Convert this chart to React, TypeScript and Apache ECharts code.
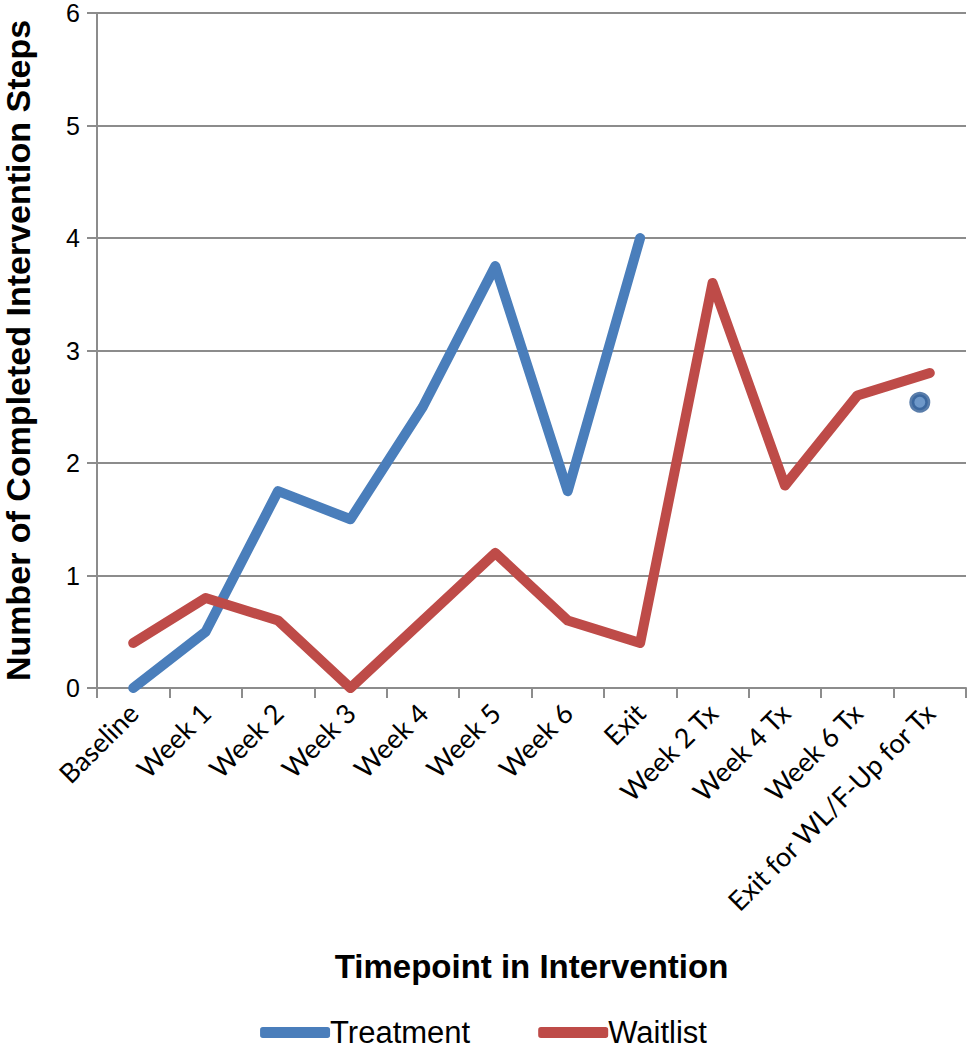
import React, { useEffect, useRef } from "react";
import * as echarts from "echarts";

const categories = [
  "Baseline",
  "Week 1",
  "Week 2",
  "Week 3",
  "Week 4",
  "Week 5",
  "Week 6",
  "Exit",
  "Week 2 Tx",
  "Week 4 Tx",
  "Week 6 Tx",
  "Exit for WL/F-Up for Tx",
];
const treatment = [0, 0.5, 1.75, 1.5, 2.5, 3.75, 1.75, 4, null, null, null, null];
const treatmentFollowUp = [null, null, null, null, null, null, null, null, null, null, null, 2.54];
const waitlist = [0.4, 0.8, 0.6, 0, 0.6, 1.2, 0.6, 0.4, 3.6, 1.8, 2.6, 2.8];
const yTicks = [0, 1, 2, 3, 4, 5, 6];

const BLUE = "#4a7ebb";
const RED = "#be4b48";

export default function App() {
  const ref = useRef<HTMLDivElement>(null);
  useEffect(() => {
    document.body.style.margin = "0";
    const chart = echarts.init(ref.current!, null, { renderer: "svg" });
    chart.setOption({
      animation: false,
      backgroundColor: "#ffffff",
      grid: { left: 97, right: 1, top: 13, bottom: 362, outerBoundsMode: "none", containLabel: false },
      legend: {
        data: ["Treatment", "Waitlist"],
        bottom: 0,
        left: "center",
        icon: "roundRect",
        itemWidth: 70,
        itemHeight: 11,
        itemGap: 68,
        padding: [0, 5, 2, 5],
        textStyle: { fontFamily: "Liberation Sans", fontSize: 31, lineHeight: 30, color: "#000", padding: [0, 0, 0, -5] },
      },
      xAxis: {
        type: "category",
        data: categories,
        boundaryGap: true,
        name: "Timepoint in Intervention",
        nameLocation: "middle",
        nameGap: 262,
        nameTextStyle: { fontFamily: "Liberation Sans", fontWeight: "bold", fontSize: 33, color: "#000" },
        axisLine: { lineStyle: { color: "#8c8c8c", width: 2 } },
        axisTick: { show: true, length: 10, lineStyle: { color: "#8c8c8c", width: 2 } },
        axisLabel: {
          rotate: 45,
          interval: 0,
          margin: 20,
          fontFamily: "Lato",
          fontSize: 27,
          color: "#000",
        },
      },
      yAxis: {
        type: "value",
        min: 0,
        max: 6,
        interval: 1,
        name: "Number of Completed Intervention Steps",
        nameLocation: "middle",
        nameGap: 62,
        nameTextStyle: { fontFamily: "Liberation Sans", fontWeight: "bold", fontSize: 34, color: "#000" },
        axisLine: { show: true, lineStyle: { color: "#8c8c8c", width: 2 } },
        axisTick: { show: true, length: 10, lineStyle: { color: "#8c8c8c", width: 2 } },
        splitLine: { lineStyle: { color: "#8c8c8c", width: 2 } },
        axisLabel: {
          fontFamily: "Liberation Sans",
          fontSize: 25,
          lineHeight: 22,
          color: "#000",
          margin: 17,
          formatter: (v: number) => (yTicks.includes(v) ? String(v) : ""),
        },
      },
      series: [
        {
          name: "Treatment",
          type: "line",
          data: treatment,
          showSymbol: false,
          symbol: "none",
          connectNulls: false,
          itemStyle: { color: BLUE },
          lineStyle: { color: BLUE, width: 10, cap: "round", join: "round" },
        },
        {
          name: "Waitlist",
          type: "line",
          data: waitlist,
          showSymbol: false,
          symbol: "none",
          itemStyle: { color: RED },
          lineStyle: { color: RED, width: 10, cap: "round", join: "round" },
        },
        {
          name: "Treatment follow-up",
          type: "scatter",
          data: treatmentFollowUp,
          symbol: "circle",
          symbolSize: 16,
          symbolOffset: [-10, 0],
          itemStyle: { color: "#4a7ebb", borderColor: "#2f5c95", borderWidth: 5 },
        },
      ],
    });
    return () => chart.dispose();
  }, []);
  return <div ref={ref} style={{ width: 967, height: 1050 }} />;
}
